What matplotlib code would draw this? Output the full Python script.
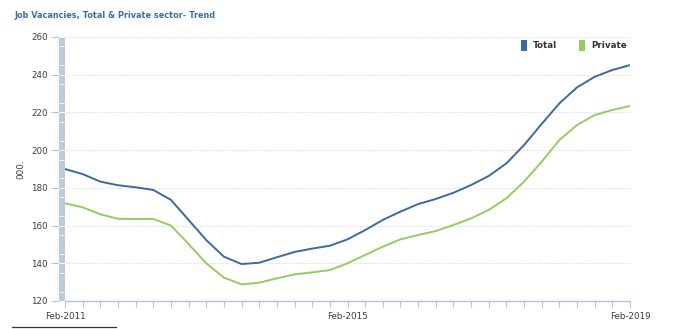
import matplotlib
matplotlib.use("Agg")
import matplotlib.pyplot as plt
from matplotlib.patches import Rectangle
from matplotlib.lines import Line2D

# Quarterly trend estimates, Feb-2011 to Feb-2019 ('000)
periods = ["Feb-2011", "Feb-2015", "Feb-2019"]
total = [190.0, 187.3, 183.3, 181.4, 180.3, 178.9, 173.6, 163.0, 152.3, 143.5,
         139.6, 140.3, 143.2, 146.0, 147.8, 149.3, 152.7, 157.6, 163.0, 167.4,
         171.4, 174.1, 177.4, 181.5, 186.3, 193.0, 202.7, 213.9, 224.8, 233.3,
         238.9, 242.5, 245.1]
private = [171.8, 169.7, 166.0, 163.6, 163.5, 163.5, 160.0, 150.2, 140.0, 132.4,
           128.8, 129.7, 132.0, 134.1, 135.2, 136.4, 140.0, 144.4, 148.8, 152.7,
           155.0, 157.1, 160.3, 163.8, 168.3, 174.5, 183.3, 193.9, 205.4, 213.3,
           218.6, 221.3, 223.4]
series_names = ["Total", "Private"]
y_ticks = [120, 140, 160, 180, 200, 220, 240, 260]

BLUE = "#3c69a0"
GREEN = "#94cc60"
TEXT = "#3d3d3d"
AXIS = "#b3c4d6"

W, H = 692, 329
fig = plt.figure(figsize=(W / 100, H / 100), dpi=100)
fig.patch.set_facecolor("white")

def fx(px):
    return px / W

def fy(py):
    return 1 - py / H

left, right, top, bottom = 65, 630, 37, 301
ax = fig.add_axes([fx(left), fy(bottom), fx(right - left), fy(top) - fy(bottom)])

x = list(range(len(total)))
ax.plot(x, total, color=BLUE, lw=1.4, solid_capstyle="round", zorder=3)
ax.plot(x, private, color=GREEN, lw=1.4, solid_capstyle="round", zorder=3)

ax.set_xlim(0, len(total) - 1)
ax.set_ylim(120, 260)
for yv in y_ticks[1:]:
    ax.axhline(yv, color="#dddddd", lw=0.7, ls=(0, (1.5, 1.5)), zorder=1)

for s in ["top", "right", "left"]:
    ax.spines[s].set_visible(False)
ax.spines["bottom"].set_color(AXIS)
ax.spines["bottom"].set_linewidth(1.0)
ax.set_yticks([])
ax.set_xticks(x)
ax.set_xticklabels([periods[i // 16] if i % 16 == 0 else "" for i in x])
ax.tick_params(axis="x", length=4, width=0.8, color=AXIS, labelsize=6.3,
               labelcolor=TEXT, pad=4)

# shaded band along the value axis with its tick labels
band = fig.add_axes([fx(58.5), fy(bottom), fx(6.5), fy(top) - fy(bottom)])
band.set_xlim(0, 1)
band.set_ylim(120, 260)
band.add_patch(Rectangle((0, 120), 1, 140, color="#bccbdc", lw=0))
for yv in range(125, 260, 10):
    band.axhline(yv, color="white", lw=0.6, alpha=0.8)
for yv in y_ticks:
    band.axhline(yv, color="white", lw=0.7, alpha=0.9)
for s in band.spines.values():
    s.set_visible(False)
band.set_xticks([])
band.set_yticks(y_ticks)
band.set_yticklabels([str(v) for v in y_ticks])
band.tick_params(axis="y", length=6, width=0.8, color=AXIS, labelsize=6.3,
                 labelcolor=TEXT, pad=1.5)
band.set_ylabel("000.", fontsize=6.3, color=TEXT, labelpad=4)

fig.text(fx(14), fy(16), "Job Vacancies, Total & Private sector- Trend",
         fontsize=5.9, fontweight="bold", color="#3b6ea5", va="center", ha="left")

# legend
for px0, col, name in [(521, BLUE, series_names[0]), (579, GREEN, series_names[1])]:
    fig.patches.append(Rectangle((fx(px0), fy(51)), fx(6), fy(40) - fy(51),
                                 transform=fig.transFigure, color=col, lw=0))
    fig.text(fx(px0 + 12), fy(46), name, fontsize=6.3, fontweight="bold",
             color="#333333", va="center", ha="left")

fig.lines.append(Line2D([fx(12), fx(116)], [fy(327), fy(327)],
                        transform=fig.transFigure, color="#333333", lw=0.9))

fig.savefig("out.png", dpi=100)
